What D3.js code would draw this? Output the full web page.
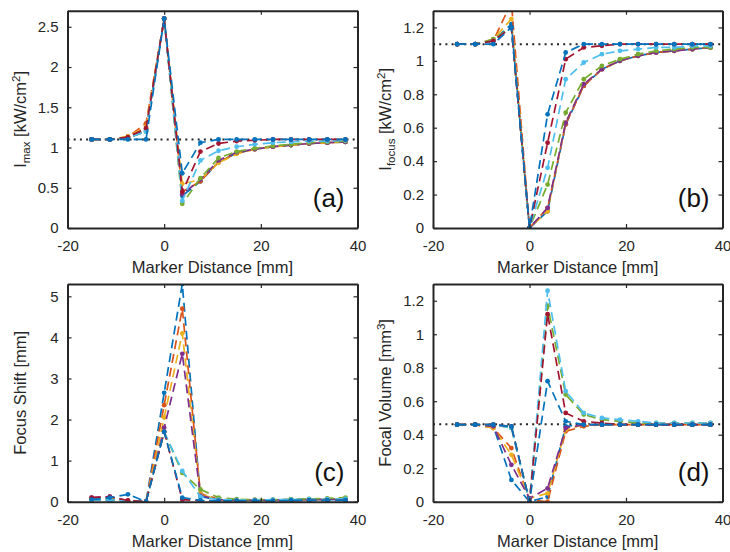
<!DOCTYPE html>
<html>
<head>
<meta charset="utf-8">
<script src="https://cdn.jsdelivr.net/npm/d3@7"></script>
<style>
  body { margin: 0; background: #fff; }
  svg { display: block; font-family: "Liberation Sans", Arial, Helvetica, sans-serif; }
</style>
</head>
<body>
<svg id="chart" width="730" height="552"></svg>
<script>
// Marker distance positions (mm) shared by every series
const markerDistance = [-15, -11.25, -7.5, -3.75, 0, 3.75, 7.5, 11.25, 15, 18.75, 22.5, 26.25, 30, 33.75, 37.5];

// Line colours, in plotting order
const seriesColors = ["#0072BD", "#D95319", "#EDB120", "#7E2F8E", "#77AC30", "#4DBEEE", "#A2142F", "#0072BD"];

// (a) peak intensity, kW/cm^2
const imaxValues = [
  [1.10, 1.10, 1.12, 1.20, 2.60, 0.40, 0.58, 0.82, 0.93, 0.98, 1.01, 1.03, 1.05, 1.06, 1.07],
  [1.10, 1.10, 1.13, 1.30, 2.60, 0.45, 0.58, 0.82, 0.93, 0.98, 1.01, 1.03, 1.05, 1.06, 1.07],
  [1.10, 1.10, 1.14, 1.26, 2.60, 0.55, 0.60, 0.81, 0.92, 0.98, 1.01, 1.03, 1.05, 1.06, 1.07],
  [1.10, 1.10, 1.12, 1.22, 2.60, 0.42, 0.60, 0.84, 0.94, 0.98, 1.01, 1.03, 1.05, 1.06, 1.07],
  [1.10, 1.10, 1.12, 1.20, 2.60, 0.30, 0.62, 0.87, 0.95, 0.99, 1.02, 1.04, 1.06, 1.07, 1.08],
  [1.10, 1.10, 1.12, 1.20, 2.60, 0.34, 0.84, 0.96, 1.01, 1.04, 1.06, 1.07, 1.08, 1.08, 1.09],
  [1.10, 1.10, 1.13, 1.24, 2.60, 0.45, 0.95, 1.05, 1.08, 1.09, 1.10, 1.10, 1.10, 1.10, 1.10],
  [1.10, 1.10, 1.10, 1.10, 2.60, 0.68, 1.06, 1.10, 1.10, 1.10, 1.10, 1.10, 1.10, 1.10, 1.10]
];

// (b) intensity at the nominal focus, kW/cm^2
const ifocusValues = [
  [1.10, 1.10, 1.12, 1.22, 0.00, 0.10, 0.62, 0.85, 0.95, 1.00, 1.03, 1.05, 1.06, 1.07, 1.08],
  [1.10, 1.10, 1.12, 1.35, 0.00, 0.12, 0.62, 0.85, 0.95, 1.00, 1.03, 1.05, 1.06, 1.07, 1.08],
  [1.10, 1.10, 1.13, 1.25, 0.00, 0.10, 0.63, 0.86, 0.95, 1.00, 1.03, 1.05, 1.06, 1.07, 1.08],
  [1.10, 1.10, 1.12, 1.20, 0.00, 0.12, 0.63, 0.86, 0.95, 1.00, 1.03, 1.05, 1.06, 1.07, 1.08],
  [1.10, 1.10, 1.13, 1.20, 0.00, 0.26, 0.69, 0.89, 0.97, 1.01, 1.04, 1.06, 1.07, 1.08, 1.08],
  [1.10, 1.10, 1.12, 1.20, 0.00, 0.36, 0.89, 0.99, 1.04, 1.06, 1.07, 1.08, 1.08, 1.09, 1.09],
  [1.10, 1.10, 1.12, 1.20, 0.00, 0.51, 1.01, 1.08, 1.09, 1.10, 1.10, 1.10, 1.10, 1.10, 1.10],
  [1.10, 1.10, 1.10, 1.20, 0.00, 0.68, 1.05, 1.10, 1.10, 1.10, 1.10, 1.10, 1.10, 1.10, 1.10]
];

// (c) focus shift, mm
const shiftValues = [
  [0.05, 0.03, 0.00, 0.00, 2.65, 5.30, 0.12, 0.05, 0.04, 0.04, 0.04, 0.05, 0.05, 0.05, 0.05],
  [0.08, 0.10, 0.02, 0.00, 2.35, 4.70, 0.20, 0.06, 0.04, 0.03, 0.03, 0.04, 0.05, 0.06, 0.06],
  [0.06, 0.08, 0.02, 0.00, 2.05, 4.10, 0.18, 0.05, 0.04, 0.03, 0.04, 0.04, 0.05, 0.06, 0.08],
  [0.10, 0.12, 0.02, 0.00, 1.80, 3.60, 0.15, 0.05, 0.04, 0.04, 0.04, 0.05, 0.05, 0.06, 0.06],
  [0.05, 0.06, 0.02, 0.00, 1.70, 0.70, 0.30, 0.10, 0.06, 0.05, 0.05, 0.06, 0.07, 0.08, 0.10],
  [0.05, 0.05, 0.02, 0.00, 1.70, 0.75, 0.12, 0.05, 0.04, 0.04, 0.05, 0.05, 0.06, 0.06, 0.07],
  [0.10, 0.12, 0.03, 0.00, 1.70, 0.05, 0.02, 0.02, 0.02, 0.02, 0.02, 0.02, 0.03, 0.03, 0.03],
  [0.05, 0.10, 0.18, 0.00, 1.70, 0.10, 0.03, 0.02, 0.02, 0.02, 0.02, 0.03, 0.03, 0.03, 0.04]
];

// (d) focal volume, mm^3
const volumeValues = [
  [0.46, 0.46, 0.45, 0.13, 0.00, 0.03, 0.45, 0.46, 0.46, 0.46, 0.46, 0.46, 0.46, 0.46, 0.46],
  [0.46, 0.46, 0.44, 0.32, 0.01, 0.00, 0.42, 0.45, 0.46, 0.46, 0.46, 0.46, 0.46, 0.46, 0.46],
  [0.46, 0.46, 0.44, 0.28, 0.02, 0.05, 0.43, 0.46, 0.46, 0.46, 0.46, 0.46, 0.46, 0.46, 0.46],
  [0.46, 0.46, 0.45, 0.22, 0.02, 0.08, 0.44, 0.46, 0.46, 0.46, 0.46, 0.46, 0.46, 0.46, 0.46],
  [0.46, 0.46, 0.46, 0.44, 0.00, 1.17, 0.64, 0.52, 0.49, 0.48, 0.47, 0.47, 0.47, 0.47, 0.47],
  [0.46, 0.46, 0.46, 0.44, 0.00, 1.26, 0.66, 0.53, 0.50, 0.49, 0.48, 0.47, 0.47, 0.47, 0.47],
  [0.46, 0.46, 0.46, 0.45, 0.00, 1.12, 0.53, 0.48, 0.47, 0.46, 0.46, 0.46, 0.46, 0.46, 0.46],
  [0.46, 0.46, 0.46, 0.45, 0.00, 0.72, 0.48, 0.46, 0.46, 0.46, 0.46, 0.46, 0.46, 0.46, 0.46]
];

// Baseline (no marker) reference levels
const referenceLevels = [1.10, 1.10, null, 0.463];

// Axis ticks
const xTickLabels = ["-20", "0", "20", "40"];
const imaxTickLabels = ["0", "0.5", "1", "1.5", "2", "2.5"];
const ifocusTickLabels = ["0", "0.2", "0.4", "0.6", "0.8", "1", "1.2"];
const shiftTickLabels = ["0", "1", "2", "3", "4", "5"];
const volumeTickLabels = ["0", "0.2", "0.4", "0.6", "0.8", "1", "1.2"];
const yLimits = [2.7, 1.3, 5.3, 1.3];
const panelTags = ["(a)", "(b)", "(c)", "(d)"];
const xLabel = "Marker Distance [mm]";

const svg = d3.select("#chart");
const defs = svg.append("defs");
const ink = "#262626";

const boxes = [
  { left: 67.5, right: 357.5, top: 10.7, bottom: 228 },
  { left: 433, right: 722.5, top: 10.7, bottom: 228 },
  { left: 67.5, right: 357.5, top: 284, bottom: 501.7 },
  { left: 433, right: 722.5, top: 284, bottom: 501.7 }
];
const valueSets = [imaxValues, ifocusValues, shiftValues, volumeValues];
const yTickSets = [imaxTickLabels, ifocusTickLabels, shiftTickLabels, volumeTickLabels];

// y-axis titles with sub/superscripts
function yTitle(text, i) {
  if (i === 0) {
    text.append("tspan").text("I");
    text.append("tspan").attr("font-size", "11.5px").attr("dy", "4").text("max");
    text.append("tspan").attr("dy", "-4").text(" [kW/cm");
    text.append("tspan").attr("font-size", "11.5px").attr("dy", "-6").text("2");
    text.append("tspan").attr("dy", "6").text("]");
  } else if (i === 1) {
    text.append("tspan").text("I");
    text.append("tspan").attr("font-size", "11.5px").attr("dy", "4").text("focus");
    text.append("tspan").attr("dy", "-4").text(" [kW/cm");
    text.append("tspan").attr("font-size", "11.5px").attr("dy", "-6").text("2");
    text.append("tspan").attr("dy", "6").text("]");
  } else if (i === 2) {
    text.text("Focus Shift [mm]");
  } else {
    text.append("tspan").text("Focal Volume [mm");
    text.append("tspan").attr("font-size", "11.5px").attr("dy", "-6").text("3");
    text.append("tspan").attr("dy", "6").text("]");
  }
}

boxes.forEach((b, i) => {
  const x = d3.scaleLinear().domain([-20, 40]).range([b.left, b.right]);
  const y = d3.scaleLinear().domain([0, yLimits[i]]).range([b.bottom, b.top]);
  const g = svg.append("g");

  const clipId = "clip" + i;
  defs.append("clipPath").attr("id", clipId)
    .append("rect")
    .attr("x", b.left).attr("y", b.top)
    .attr("width", b.right - b.left).attr("height", b.bottom - b.top);

  const plot = g.append("g").attr("clip-path", `url(#${clipId})`);

  // dotted baseline level
  if (referenceLevels[i] !== null) {
    plot.append("line")
      .attr("x1", x(-20)).attr("x2", x(40))
      .attr("y1", y(referenceLevels[i])).attr("y2", y(referenceLevels[i]))
      .attr("stroke", ink).attr("stroke-width", 2)
      .attr("stroke-dasharray", "2,4.2");
  }

  const line = d3.line()
    .x((d, k) => x(markerDistance[k]))
    .y(d => y(d));

  valueSets[i].forEach((vals, s) => {
    plot.append("path")
      .datum(vals)
      .attr("d", line)
      .attr("fill", "none")
      .attr("stroke", seriesColors[s])
      .attr("stroke-width", 1.7)
      .attr("stroke-dasharray", "9,5");
    plot.selectAll(null)
      .data(vals)
      .enter().append("circle")
      .attr("cx", (d, k) => x(markerDistance[k]))
      .attr("cy", d => y(d))
      .attr("r", 2.4)
      .attr("fill", seriesColors[s]);
  });

  // axes on all four sides, ticks pointing inward
  const xTicks = xTickLabels.map(Number);
  const yTicks = yTickSets[i].map(Number);
  const yLabels = yTickSets[i];

  const axB = g.append("g").attr("transform", `translate(0,${b.bottom})`)
    .call(d3.axisBottom(x).tickValues(xTicks).tickSizeInner(-4).tickSizeOuter(0)
      .tickPadding(12.3).tickFormat((d, k) => xTickLabels[k]));
  const axT = g.append("g").attr("transform", `translate(0,${b.top})`)
    .call(d3.axisTop(x).tickValues(xTicks).tickSizeInner(-4).tickSizeOuter(0).tickFormat(""));
  const axL = g.append("g").attr("transform", `translate(${b.left},0)`)
    .call(d3.axisLeft(y).tickValues(yTicks).tickSizeInner(-4).tickSizeOuter(0)
      .tickPadding(9).tickFormat((d, k) => yLabels[k]));
  const axR = g.append("g").attr("transform", `translate(${b.right},0)`)
    .call(d3.axisRight(y).tickValues(yTicks).tickSizeInner(-4).tickSizeOuter(0).tickFormat(""));

  [axB, axT, axL, axR].forEach(ax => {
    ax.select(".domain").attr("stroke", ink).attr("stroke-width", 2);
    ax.selectAll(".tick line").attr("stroke", ink).attr("stroke-width", 1.2);
    ax.selectAll("text").attr("fill", ink).attr("font-size", "15px")
      .attr("font-family", '"Liberation Sans", Arial, sans-serif');
  });

  // axis titles
  g.append("text")
    .attr("x", (b.left + b.right) / 2)
    .attr("y", b.bottom + 45)
    .attr("text-anchor", "middle")
    .attr("fill", ink)
    .attr("font-size", "16.5px")
    .text(xLabel);

  const yt = g.append("text")
    .attr("transform", `translate(${b.left - 42},${(b.top + b.bottom) / 2}) rotate(-90)`)
    .attr("text-anchor", "middle")
    .attr("fill", ink)
    .attr("font-size", "16.5px");
  yTitle(yt, i);

  // panel tag
  g.append("text")
    .attr("x", b.right - 13)
    .attr("y", b.bottom - 21)
    .attr("text-anchor", "end")
    .attr("fill", "#111")
    .attr("font-size", "26px")
    .text(panelTags[i]);
});
</script>
</body>
</html>
